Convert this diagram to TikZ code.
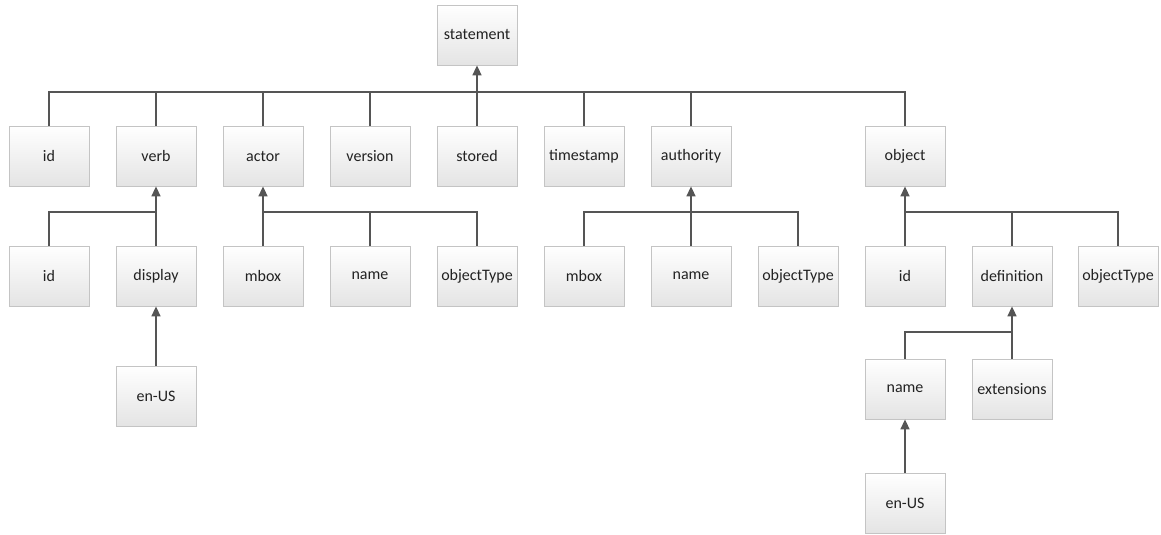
\documentclass[tikz,border=0pt]{standalone}
\usepackage{fontspec}
\setmainfont{Carlito}
\usetikzlibrary{arrows.meta,shadows}
\definecolor{boxline}{HTML}{C4C4C4}
\definecolor{boxbot}{HTML}{E4E4E4}
\definecolor{wire}{HTML}{555555}
\definecolor{label}{HTML}{222222}
\begin{document}
\begin{tikzpicture}[x=1pt,y=-1pt,
  field/.style={rectangle, draw=boxline, line width=0.8pt,
    top color=white, bottom color=boxbot,
    minimum width=80pt, minimum height=60pt, inner sep=0pt,
    text=label, font=\fontsize{16}{19}\selectfont,
    drop shadow={shadow xshift=1pt, shadow yshift=-1pt, opacity=0.18}},
  wireline/.style={draw=wire, line width=1.6pt},
  uplink/.style={wireline, -{Triangle[width=9pt,length=10pt]}}]
\useasboundingbox (0,0) rectangle (1161,535);

% top level
\node[field] (statement) at (477,35) {statement};

% statement properties
\node[field] (sid)       at (49,156)  {id};
\node[field] (verb)      at (156,156) {verb};
\node[field] (actor)     at (263,156) {actor};
\node[field] (version)   at (370,156) {version};
\node[field] (stored)    at (477,156) {stored};
\node[field] (timestamp) at (584,156) {timestamp};
\node[field] (authority) at (691,156) {authority};
\node[field] (object)    at (905,156) {object};

% verb
\node[field] (vid)     at (49,276)  {id};
\node[field] (display) at (156,276) {display};
\node[field] (venus)   at (156,396) {en-US};

% actor
\node[field] (ambox) at (263,276) {mbox};
\node[field] (aname) at (370,276) {name};
\node[field] (atype) at (477,276) {objectType};

% authority
\node[field] (umbox) at (584,276) {mbox};
\node[field] (uname) at (691,276) {name};
\node[field] (utype) at (798,276) {objectType};

% object
\node[field] (oid)   at (905,276)  {id};
\node[field] (odef)  at (1012,276) {definition};
\node[field] (otype) at (1118,276) {objectType};
\node[field] (dname) at (905,389)  {name};
\node[field] (dext)  at (1012,389) {extensions};
\node[field] (denus) at (905,503)  {en-US};

% bus levels
\coordinate (bus1) at (0,92);
\coordinate (bus2) at (0,212);
\coordinate (bus3) at (0,332);

% statement group
\draw[uplink] (stored.north) -- (statement.south);
\draw[wireline] (sid.north) |- (bus1 -| object) -- (object.north);
\foreach \n in {verb,actor,version,timestamp,authority}
  \draw[wireline] (\n.north) -- (\n.north |- bus1);

% verb group
\draw[uplink] (display.north) -- (verb.south);
\draw[wireline] (vid.north) |- (bus2 -| display);
\draw[uplink] (venus.north) -- (display.south);

% actor group
\draw[uplink] (ambox.north) -- (actor.south);
\draw[wireline] (ambox.north |- bus2) -| (atype.north);
\draw[wireline] (aname.north) -- (aname.north |- bus2);

% authority group
\draw[uplink] (uname.north) -- (authority.south);
\draw[wireline] (umbox.north) |- (bus2 -| utype) -- (utype.north);

% object group
\draw[uplink] (oid.north) -- (object.south);
\draw[wireline] (oid.north |- bus2) -| (otype.north);
\draw[wireline] (odef.north) -- (odef.north |- bus2);

% definition group
\draw[uplink] (dext.north) -- (odef.south);
\draw[wireline] (dname.north) |- (bus3 -| dext);
\draw[uplink] (denus.north) -- (dname.south);
\end{tikzpicture}
\end{document}
